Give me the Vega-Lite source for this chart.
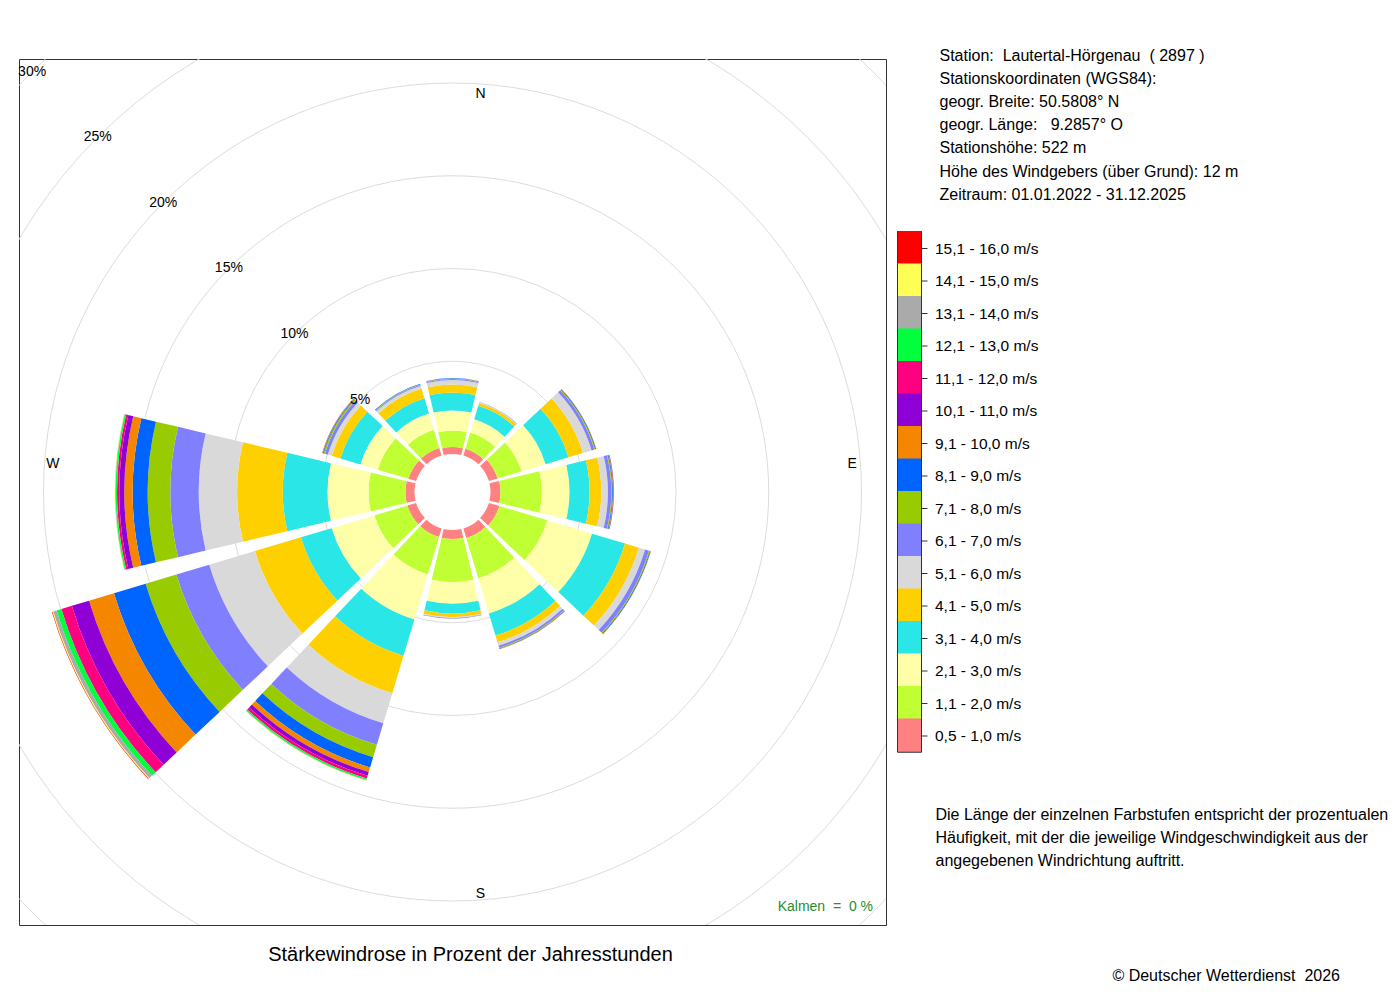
{
  "$schema": "https://vega.github.io/schema/vega-lite/v6.json",
  "width": 867,
  "height": 866,
  "autosize": {"type": "none"},
  "padding": {"left": 19, "top": 59, "right": 514, "bottom": 75},
  "background": "white",
  "config": {
    "font": "Liberation Sans",
    "view": {"stroke": "#333", "strokeWidth": 1},
    "axis": {
      "domain": false, "ticks": false, "labels": false, "grid": false,
      "titleFont": "Liberation Sans", "titleFontWeight": "normal", "titleColor": "#000",
      "titleFontSize": 16, "titleAngle": 0, "titleLimit": 1000
    }
  },
  "title": {
    "text": "© Deutscher Wetterdienst\u00a0 2026",
    "orient": "bottom", "anchor": "end", "frame": "group",
    "dx": 454, "offset": 4, "baseline": "top",
    "fontSize": 16, "fontWeight": "normal", "font": "Liberation Sans", "color": "#000"
  },
  "datasets": {
    "classes": [
      {"k": 1, "label": "0,5 - 1,0 m/s"}, {"k": 2, "label": "1,1 - 2,0 m/s"},
      {"k": 3, "label": "2,1 - 3,0 m/s"}, {"k": 4, "label": "3,1 - 4,0 m/s"},
      {"k": 5, "label": "4,1 - 5,0 m/s"}, {"k": 6, "label": "5,1 - 6,0 m/s"},
      {"k": 7, "label": "6,1 - 7,0 m/s"}, {"k": 8, "label": "7,1 - 8,0 m/s"},
      {"k": 9, "label": "8,1 - 9,0 m/s"}, {"k": 10, "label": "9,1 - 10,0 m/s"},
      {"k": 11, "label": "10,1 - 11,0 m/s"}, {"k": 12, "label": "11,1 - 12,0 m/s"},
      {"k": 13, "label": "12,1 - 13,0 m/s"}, {"k": 14, "label": "13,1 - 14,0 m/s"},
      {"k": 15, "label": "14,1 - 15,0 m/s"}, {"k": 16, "label": "15,1 - 16,0 m/s"}
    ],
    "rings": [
      {"r": 5, "t": "5%"}, {"r": 10, "t": "10%"}, {"r": 15, "t": "15%"},
      {"r": 20, "t": "20%"}, {"r": 25, "t": "25%"}, {"r": 30, "t": "30%"}
    ],
    "dirs": [
      {"lab": "N", "deg": 0}, {"lab": "E", "deg": 90},
      {"lab": "S", "deg": 180}, {"lab": "W", "deg": 270}
    ],
    "wind": [
      {"d": 0, "k": 1, "p": 0.38}, {"d": 0, "k": 2, "p": 0.89}, {"d": 0, "k": 3, "p": 1.08},
      {"d": 0, "k": 4, "p": 0.97}, {"d": 0, "k": 5, "p": 0.43}, {"d": 0, "k": 6, "p": 0.24},
      {"d": 0, "k": 7, "p": 0.05}, {"d": 0, "k": 8, "p": 0.03}, {"d": 0, "k": 9, "p": 0.02},
      {"d": 0, "k": 10, "p": 0.01},
      {"d": 30, "k": 1, "p": 0.38}, {"d": 30, "k": 2, "p": 0.92}, {"d": 30, "k": 3, "p": 0.75},
      {"d": 30, "k": 4, "p": 0.75}, {"d": 30, "k": 5, "p": 0.16}, {"d": 30, "k": 6, "p": 0.04},
      {"d": 30, "k": 7, "p": 0.02},
      {"d": 60, "k": 1, "p": 0.49}, {"d": 60, "k": 2, "p": 1.35}, {"d": 60, "k": 3, "p": 1.35},
      {"d": 60, "k": 4, "p": 1.29}, {"d": 60, "k": 5, "p": 0.81}, {"d": 60, "k": 6, "p": 0.49},
      {"d": 60, "k": 7, "p": 0.16}, {"d": 60, "k": 8, "p": 0.05}, {"d": 60, "k": 9, "p": 0.04},
      {"d": 60, "k": 10, "p": 0.02},
      {"d": 90, "k": 1, "p": 0.54}, {"d": 90, "k": 2, "p": 2.23}, {"d": 90, "k": 3, "p": 1.49},
      {"d": 90, "k": 4, "p": 1.08}, {"d": 90, "k": 5, "p": 0.63}, {"d": 90, "k": 6, "p": 0.36},
      {"d": 90, "k": 7, "p": 0.18}, {"d": 90, "k": 8, "p": 0.05}, {"d": 90, "k": 9, "p": 0.04},
      {"d": 90, "k": 10, "p": 0.03}, {"d": 90, "k": 11, "p": 0.02},
      {"d": 120, "k": 1, "p": 0.59}, {"d": 120, "k": 2, "p": 2.7}, {"d": 120, "k": 3, "p": 2.51},
      {"d": 120, "k": 4, "p": 1.86}, {"d": 120, "k": 5, "p": 0.78}, {"d": 120, "k": 6, "p": 0.35},
      {"d": 120, "k": 7, "p": 0.22}, {"d": 120, "k": 8, "p": 0.05}, {"d": 120, "k": 9, "p": 0.04},
      {"d": 120, "k": 10, "p": 0.02},
      {"d": 150, "k": 1, "p": 0.54}, {"d": 150, "k": 2, "p": 2.26}, {"d": 150, "k": 3, "p": 1.99},
      {"d": 150, "k": 4, "p": 1.24}, {"d": 150, "k": 5, "p": 0.38}, {"d": 150, "k": 6, "p": 0.19},
      {"d": 150, "k": 7, "p": 0.11}, {"d": 150, "k": 8, "p": 0.04}, {"d": 150, "k": 9, "p": 0.03},
      {"d": 150, "k": 10, "p": 0.02},
      {"d": 180, "k": 1, "p": 0.49}, {"d": 180, "k": 2, "p": 2.32}, {"d": 180, "k": 3, "p": 1.16},
      {"d": 180, "k": 4, "p": 0.54}, {"d": 180, "k": 5, "p": 0.19}, {"d": 180, "k": 6, "p": 0.05},
      {"d": 180, "k": 7, "p": 0.03},
      {"d": 210, "k": 1, "p": 0.49}, {"d": 210, "k": 2, "p": 2.1}, {"d": 210, "k": 3, "p": 2.53},
      {"d": 210, "k": 4, "p": 2.05}, {"d": 210, "k": 5, "p": 2.1}, {"d": 210, "k": 6, "p": 1.7},
      {"d": 210, "k": 7, "p": 1.21}, {"d": 210, "k": 8, "p": 0.7}, {"d": 210, "k": 9, "p": 0.57},
      {"d": 210, "k": 10, "p": 0.26}, {"d": 210, "k": 11, "p": 0.21}, {"d": 210, "k": 12, "p": 0.15},
      {"d": 210, "k": 13, "p": 0.08}, {"d": 210, "k": 14, "p": 0.03}, {"d": 210, "k": 15, "p": 0.02},
      {"d": 240, "k": 1, "p": 0.49}, {"d": 240, "k": 2, "p": 1.86}, {"d": 240, "k": 3, "p": 2.4},
      {"d": 240, "k": 4, "p": 1.73}, {"d": 240, "k": 5, "p": 2.59}, {"d": 240, "k": 6, "p": 2.57},
      {"d": 240, "k": 7, "p": 1.85}, {"d": 240, "k": 8, "p": 1.73}, {"d": 240, "k": 9, "p": 1.78},
      {"d": 240, "k": 10, "p": 1.4}, {"d": 240, "k": 11, "p": 0.97}, {"d": 240, "k": 12, "p": 0.59},
      {"d": 240, "k": 13, "p": 0.27}, {"d": 240, "k": 14, "p": 0.19}, {"d": 240, "k": 15, "p": 0.05},
      {"d": 240, "k": 16, "p": 0.03},
      {"d": 270, "k": 1, "p": 0.49}, {"d": 270, "k": 2, "p": 1.99}, {"d": 270, "k": 3, "p": 2.21},
      {"d": 270, "k": 4, "p": 2.41}, {"d": 270, "k": 5, "p": 2.46}, {"d": 270, "k": 6, "p": 2.07},
      {"d": 270, "k": 7, "p": 1.53}, {"d": 270, "k": 8, "p": 1.22}, {"d": 270, "k": 9, "p": 0.81},
      {"d": 270, "k": 10, "p": 0.45}, {"d": 270, "k": 11, "p": 0.27}, {"d": 270, "k": 12, "p": 0.12},
      {"d": 270, "k": 13, "p": 0.08}, {"d": 270, "k": 14, "p": 0.03}, {"d": 270, "k": 15, "p": 0.02},
      {"d": 300, "k": 1, "p": 0.43}, {"d": 300, "k": 2, "p": 1.73}, {"d": 300, "k": 3, "p": 0.97},
      {"d": 300, "k": 4, "p": 1.13}, {"d": 300, "k": 5, "p": 0.49}, {"d": 300, "k": 6, "p": 0.22},
      {"d": 300, "k": 7, "p": 0.16}, {"d": 300, "k": 8, "p": 0.08}, {"d": 300, "k": 9, "p": 0.04},
      {"d": 300, "k": 10, "p": 0.03}, {"d": 300, "k": 11, "p": 0.01},
      {"d": 330, "k": 1, "p": 0.43}, {"d": 330, "k": 2, "p": 1.02}, {"d": 330, "k": 3, "p": 0.92},
      {"d": 330, "k": 4, "p": 0.86}, {"d": 330, "k": 5, "p": 0.54}, {"d": 330, "k": 6, "p": 0.16},
      {"d": 330, "k": 7, "p": 0.05}, {"d": 330, "k": 8, "p": 0.03}, {"d": 330, "k": 9, "p": 0.03}
    ]
  },
  "resolve": {
    "scale": {"theta": "independent"},
    "axis": {"x": "independent", "y": "independent"}
  },
  "layer": [
    {
      "data": {"name": "rings"},
      "mark": {"type": "arc", "filled": false, "stroke": "#dcdcdc", "strokeWidth": 1, "theta": 0, "theta2": 6.2832, "radius2": 0, "clip": true},
      "encoding": {
        "radius": {"field": "r", "type": "quantitative", "stack": false, "scale": {"type": "linear", "domain": [0, 30], "range": [38, 594.5], "nice": false}}
      }
    },
    {
      "mark": {"type": "rule", "color": "#555", "strokeWidth": 1},
      "encoding": {
        "x": {
          "datum": 0, "type": "quantitative",
          "scale": {"domain": [-1, 1], "nice": false},
          "axis": {
            "orient": "top",
            "title": [
              "Station:\u00a0 Lautertal-Hörgenau\u00a0 ( 2897 )",
              "Stationskoordinaten (WGS84):",
              "geogr. Breite: 50.5808° N",
              "geogr. Länge:\u00a0\u00a0 9.2857° O",
              "Stationshöhe: 522 m",
              "Höhe des Windgebers (über Grund): 12 m",
              "Zeitraum: 01.01.2022 - 31.12.2025"
            ],
            "titleX": 920, "titleY": -12, "titleAlign": "left", "titleBaseline": "top", "titleLineHeight": 23.2
          }
        },
        "y": {
          "datum": -0.97, "type": "quantitative",
          "scale": {"domain": [-1, 1], "nice": false},
          "axis": {
            "orient": "right",
            "title": [
              "Die Länge der einzelnen Farbstufen entspricht der prozentualen",
              "Häufigkeit, mit der die jeweilige Windgeschwindigkeit aus der",
              "angegebenen Windrichtung auftritt."
            ],
            "titleX": 49, "titleY": 747, "titleAlign": "left", "titleBaseline": "top", "titleLineHeight": 23
          }
        },
        "y2": {"datum": 0.97}
      }
    },
    {
      "mark": {"type": "rule", "color": "#555", "strokeWidth": 1},
      "encoding": {
        "y": {"datum": 0, "type": "quantitative", "scale": {"domain": [-1, 1], "nice": false}, "axis": null},
        "x": {
          "datum": -0.969, "type": "quantitative",
          "scale": {"domain": [-1, 1], "nice": false},
          "axis": {
            "orient": "bottom",
            "title": "Stärkewindrose in Prozent der Jahresstunden",
            "titleFontSize": 20, "titleX": 451, "titleY": 19, "titleAlign": "center", "titleBaseline": "top"
          }
        },
        "x2": {"datum": 0.969}
      }
    },
    {
      "data": {"name": "wind"},
      "transform": [
        {"lookup": "k", "from": {"data": {"name": "classes"}, "key": "k", "fields": ["label"]}}
      ],
      "mark": {"type": "arc", "strokeWidth": 0},
      "encoding": {
        "theta": {
          "field": "d", "type": "ordinal",
          "scale": {"type": "band", "paddingInner": 0.11, "paddingOuter": 0.055, "range": [-0.261799, 6.021386]}
        },
        "radius": {
          "field": "p", "type": "quantitative", "stack": "zero",
          "scale": {"type": "linear", "domain": [0, 30], "range": [38, 594.5], "nice": false}
        },
        "order": {"field": "k", "type": "quantitative", "sort": "ascending"},
        "color": {
          "field": "label", "type": "nominal",
          "scale": {
            "domain": [
              "15,1 - 16,0 m/s", "14,1 - 15,0 m/s", "13,1 - 14,0 m/s", "12,1 - 13,0 m/s",
              "11,1 - 12,0 m/s", "10,1 - 11,0 m/s", "9,1 - 10,0 m/s", "8,1 - 9,0 m/s",
              "7,1 - 8,0 m/s", "6,1 - 7,0 m/s", "5,1 - 6,0 m/s", "4,1 - 5,0 m/s",
              "3,1 - 4,0 m/s", "2,1 - 3,0 m/s", "1,1 - 2,0 m/s", "0,5 - 1,0 m/s"
            ],
            "range": [
              "#ff0000", "#ffff55", "#aaaaaa", "#00ff3c", "#ff0080", "#8f00d6", "#f58700", "#0064ff",
              "#99cc00", "#8080ff", "#d9d9d9", "#ffd000", "#2ae6e6", "#ffffaa", "#bfff33", "#ff8080"
            ]
          },
          "legend": {
            "orient": "none", "legendX": 878, "legendY": 177, "title": null,
            "symbolType": "M1,-1.454V1.354H-1V-1.454M1,0H1.5", "symbolSize": 576,
            "symbolStrokeColor": "#333", "symbolStrokeWidth": 1, "symbolOpacity": 1,
            "rowPadding": -5.5, "padding": 0,
            "labelFont": "Liberation Sans", "labelFontSize": 15.5, "labelColor": "#000", "labelOffset": 13
          }
        }
      }
    },
    {
      "data": {"name": "rings"},
      "mark": {"type": "text", "fontSize": 14, "color": "#000", "align": "center", "baseline": "middle"},
      "encoding": {
        "theta": {"value": 5.497787},
        "radius": {"field": "r", "type": "quantitative", "stack": false, "scale": {"type": "linear", "domain": [0, 30], "range": [38, 594.5], "nice": false}},
        "text": {"field": "t", "type": "nominal"}
      }
    },
    {
      "data": {"name": "dirs"},
      "transform": [{"filter": {"field": "lab", "oneOf": ["N", "S"]}}],
      "mark": {"type": "text", "fontSize": 14, "color": "#000", "align": "center", "baseline": "middle", "dx": 28, "dy": 2},
      "encoding": {
        "theta": {"field": "deg", "type": "quantitative", "stack": false, "scale": {"domain": [0, 360], "range": [0, 6.283185], "zero": true, "nice": false}},
        "radius": {"datum": 19.5, "type": "quantitative"},
        "text": {"field": "lab", "type": "nominal"}
      }
    },
    {
      "data": {"name": "dirs"},
      "transform": [{"filter": {"field": "lab", "oneOf": ["E", "W"]}}],
      "mark": {"type": "text", "fontSize": 14, "color": "#000", "align": "center", "baseline": "middle", "dy": -28},
      "encoding": {
        "theta": {"field": "deg", "type": "quantitative", "stack": false, "scale": {"domain": [0, 360], "range": [0, 6.283185], "zero": true, "nice": false}},
        "radius": {"datum": 19.5, "type": "quantitative"},
        "text": {"field": "lab", "type": "nominal"}
      }
    },
    {
      "data": {"values": [{"t": "Kalmen\u00a0 =\u00a0 0 %"}]},
      "mark": {"type": "text", "fontSize": 14, "color": "#2e8b2e", "align": "right", "baseline": "middle", "dx": -13, "dy": -18},
      "encoding": {
        "x": {"datum": 1, "type": "quantitative", "scale": {"domain": [-1, 1], "nice": false}, "axis": null},
        "y": {"datum": -1, "type": "quantitative", "scale": {"domain": [-1, 1], "nice": false}, "axis": null},
        "text": {"field": "t", "type": "nominal"}
      }
    }
  ]
}
